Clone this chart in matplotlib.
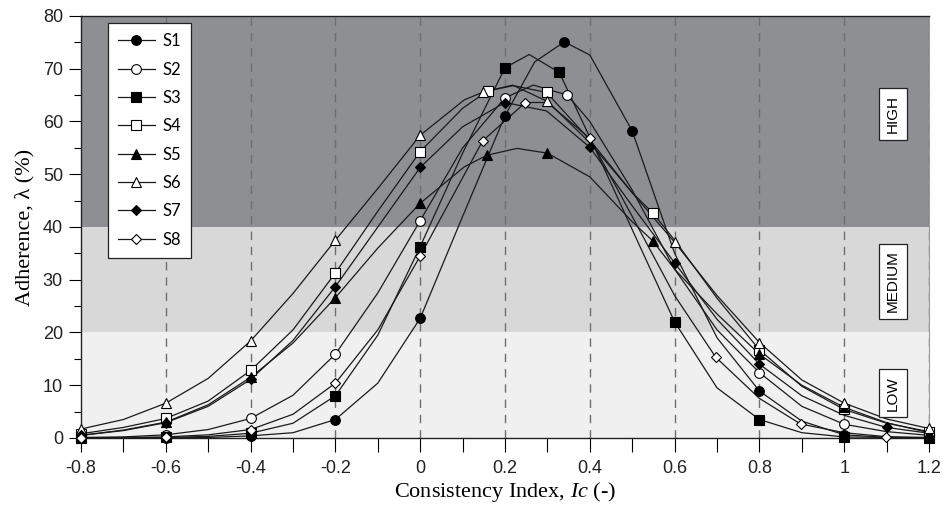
import matplotlib
matplotlib.use("Agg")
import matplotlib.pyplot as plt
from matplotlib.lines import Line2D
from matplotlib.ticker import MultipleLocator, FixedLocator

plt.rcParams['mathtext.fontset'] = 'custom'
plt.rcParams['mathtext.rm'] = 'Liberation Serif'
plt.rcParams['mathtext.it'] = 'Liberation Serif:italic'

# ---- data: fitted curves (line vertices) and measured points (marker x positions) ----
series_names = ["S1", "S2", "S3", "S4", "S5", "S6", "S7", "S8"]

s1_x = [-0.8, -0.7, -0.6, -0.5, -0.4, -0.3, -0.2, -0.1, 0, 0.1, 0.2, 0.27, 0.34, 0.4, 0.5, 0.6, 0.7, 0.8, 0.9, 1.0, 1.1, 1.2]
s1_y = [0, 0, 0, 0.1, 0.4, 1.0, 3.5, 10.4, 22.7, 42, 61.1, 71.3, 75.1, 72.6, 58.2, 35, 19, 8.9, 3.2, 0.6, 0.1, 0]
s1_pts = [-0.8, -0.6, -0.4, -0.2, 0, 0.2, 0.34, 0.5, 0.8, 1.0, 1.2]

s2_x = [-0.8, -0.7, -0.6, -0.5, -0.4, -0.3, -0.2, -0.1, 0, 0.1, 0.2, 0.267, 0.347, 0.4, 0.5, 0.6, 0.7, 0.8, 0.9, 1.0, 1.1, 1.2]
s2_y = [0.1, 0.2, 0.6, 1.6, 3.7, 8.1, 15.9, 27.5, 41.2, 55, 64.5, 66.9, 65, 60, 47, 32, 20.5, 12.4, 6, 2.6, 1.2, 0.5]
s2_pts = [-0.8, -0.6, -0.4, -0.2, 0, 0.2, 0.347, 0.8, 1.0, 1.2]

s3_x = [-0.8, -0.7, -0.6, -0.5, -0.4, -0.3, -0.2, -0.1, 0, 0.1, 0.2, 0.257, 0.328, 0.4, 0.5, 0.6, 0.7, 0.8, 0.9, 1.0, 1.1, 1.2]
s3_y = [0, 0, 0.1, 0.3, 0.9, 2.8, 8.0, 19.5, 36.3, 54, 70.2, 72.7, 69.3, 57, 39.5, 22, 9.5, 3.5, 1.0, 0.2, 0.1, 0]
s3_pts = [-0.8, -0.6, -0.4, -0.2, 0, 0.2, 0.328, 0.6, 0.8, 1.0, 1.2]

s4_x = [-0.8, -0.7, -0.6, -0.5, -0.4, -0.3, -0.2, -0.1, 0, 0.1, 0.159, 0.22, 0.298, 0.4, 0.5, 0.548, 0.6, 0.7, 0.8, 0.9, 1.0, 1.1, 1.2]
s4_y = [0.8, 2.0, 3.7, 7.0, 12.8, 20.5, 31.3, 43, 54.3, 62.5, 65.8, 66.8, 65.5, 56.5, 46.5, 42.7, 37.5, 26.5, 16.7, 9.8, 5.4, 2.8, 1.2]
s4_pts = [-0.8, -0.6, -0.4, -0.2, 0, 0.159, 0.298, 0.548, 0.8, 1.0, 1.2]

s5_x = [-0.8, -0.7, -0.6, -0.5, -0.4, -0.3, -0.2, -0.1, 0, 0.104, 0.157, 0.228, 0.3, 0.4, 0.5, 0.548, 0.6, 0.7, 0.8, 0.9, 1.0, 1.1, 1.2]
s5_y = [0.5, 1.5, 3.0, 6.3, 11.5, 18.0, 26.6, 36, 44.5, 51.4, 53.6, 54.9, 54, 49.5, 41, 37.4, 32, 23.5, 15.9, 10, 5.8, 2.9, 1.0]
s5_pts = [-0.8, -0.6, -0.4, -0.2, 0, 0.157, 0.3, 0.548, 0.8, 1.0, 1.2]

s6_x = [-0.8, -0.7, -0.6, -0.5, -0.4, -0.3, -0.2, -0.1, 0, 0.104, 0.149, 0.218, 0.3, 0.4, 0.5, 0.6, 0.7, 0.8, 0.9, 1.0, 1.1, 1.2]
s6_y = [1.7, 3.5, 6.6, 11.3, 18.4, 27.4, 37.5, 47.3, 57.4, 64.1, 65.6, 66.9, 63.8, 56, 46.5, 37.1, 27, 18.1, 11, 6.6, 3.6, 1.8]
s6_pts = [-0.8, -0.6, -0.4, -0.2, 0, 0.149, 0.3, 0.6, 0.8, 1.0, 1.2]

s7_x = [-0.8, -0.7, -0.6, -0.5, -0.4, -0.3, -0.2, -0.1, 0, 0.1, 0.2, 0.298, 0.4, 0.5, 0.6, 0.7, 0.8, 0.9, 1.0, 1.1, 1.2]
s7_y = [0.5, 1.4, 2.9, 6.0, 11.1, 18.5, 28.7, 40, 51.3, 59, 63.6, 62, 55.1, 44, 33.2, 22.5, 14.0, 8.0, 4.3, 2.0, 0.9]
s7_pts = [-0.8, -0.6, -0.4, -0.2, 0, 0.2, 0.4, 0.6, 0.8, 1.1]

s8_x = [-0.8, -0.7, -0.6, -0.5, -0.4, -0.3, -0.2, -0.1, 0, 0.147, 0.248, 0.3, 0.4, 0.5, 0.6, 0.697, 0.8, 0.897, 1.0, 1.098, 1.2]
s8_y = [0, 0.1, 0.2, 0.6, 1.6, 4.5, 10.4, 20.5, 34.5, 56.3, 63.6, 63.6, 56.8, 42, 27, 15.3, 7.5, 2.65, 1.0, 0.25, 0.1]
s8_pts = [-0.8, -0.6, -0.4, -0.2, 0, 0.147, 0.248, 0.4, 0.697, 0.897, 1.098]

x_ticks = [-0.8, -0.6, -0.4, -0.2, 0, 0.2, 0.4, 0.6, 0.8, 1.0, 1.2]
x_tick_labels = ["-0.8", "-0.6", "-0.4", "-0.2", "0", "0.2", "0.4", "0.6", "0.8", "1", "1.2"]
y_ticks = [0, 10, 20, 30, 40, 50, 60, 70, 80]

band_edges = [0, 20, 40, 80]
band_names = ["LOW", "MEDIUM", "HIGH"]
band_label_y = [8.5, 29.7, 61.4]

# ---- styling ----
band_colors = ["#f0f0f0", "#d8d8d8", "#8e8f93"]
marker_styles = [
    ("o", "black"), ("o", "white"), ("s", "black"), ("s", "white"),
    ("^", "black"), ("^", "white"), ("D", "black"), ("D", "white"),
]
marker_sizes = [7, 7, 6.5, 6.5, 7.5, 7.5, 5.5, 5.5]

curves = [(s1_x, s1_y, s1_pts), (s2_x, s2_y, s2_pts), (s3_x, s3_y, s3_pts),
          (s4_x, s4_y, s4_pts), (s5_x, s5_y, s5_pts), (s6_x, s6_y, s6_pts),
          (s7_x, s7_y, s7_pts), (s8_x, s8_y, s8_pts)]

fig = plt.figure(figsize=(9.43, 5.11), dpi=100)
ax = fig.add_axes([0.0859, 0.1429, 0.8993, 0.8258])

for lo, hi, c in zip(band_edges[:-1], band_edges[1:], band_colors):
    ax.axhspan(lo, hi, color=c, zorder=0, lw=0)

for xv in x_ticks[1:]:
    ax.axvline(xv, color="#6e6e6e", lw=1.0, ls=(0, (6, 5)), zorder=1)

for (lx, ly, pts) in curves:
    ax.plot(lx, ly, color="#1a1a1a", lw=0.9, zorder=3, clip_on=False)

handles = []
for (lx, ly, pts), (m, fc), ms, name in zip(curves, marker_styles, marker_sizes, series_names):
    idx = [lx.index(p) for p in pts]
    ax.plot([lx[i] for i in idx], [ly[i] for i in idx], ls="none", marker=m, ms=ms,
            mfc=fc, mec="black", mew=0.8, zorder=4, clip_on=False)
    handles.append(Line2D([], [], color="#1a1a1a", lw=0.9, marker=m, ms=ms,
                          mfc=fc, mec="black", mew=0.8, label=name))

for name, yv in zip(band_names, band_label_y):
    ax.text(1.115, yv, name, rotation=90, ha="center", va="center",
            fontsize=11, family="Liberation Sans", zorder=5,
            bbox=dict(boxstyle="square,pad=0.45", fc="white", ec="#222222", lw=0.9))

ax.set_xlim(-0.8, 1.2)
ax.set_ylim(0, 80)
ax.xaxis.set_major_locator(FixedLocator(x_ticks))
ax.set_xticklabels(x_tick_labels)
ax.xaxis.set_minor_locator(MultipleLocator(0.1))
ax.yaxis.set_major_locator(FixedLocator(y_ticks))
ax.yaxis.set_minor_locator(MultipleLocator(5))

ax.tick_params(axis="x", which="both", direction="out", length=10, width=0.8, pad=6)
ax.tick_params(axis="y", which="major", direction="out", length=9, width=0.8, pad=4)
ax.tick_params(axis="y", which="minor", direction="out", length=5, width=0.8)
for lab in ax.get_xticklabels() + ax.get_yticklabels():
    lab.set_fontfamily("Liberation Sans")
    lab.set_fontsize(13)
    lab.set_color("#222222")

for side in ["left", "bottom", "top"]:
    ax.spines[side].set_color("#222222")
    ax.spines[side].set_linewidth(1.0)
ax.spines["right"].set_color("#9a9a9a")
ax.spines["right"].set_linewidth(0.8)

ax.set_xlabel(r"Consistency Index, $\mathit{Ic}$ (-)", fontsize=16,
              family="Liberation Serif", labelpad=2)
ax.set_ylabel("Adherence, λ (%)", fontsize=16, family="Liberation Serif", labelpad=6)

leg = ax.legend(handles=handles, loc="upper left", bbox_to_anchor=(0.032, 0.983),
                borderaxespad=0, frameon=True, fancybox=False, handlelength=2.2,
                handletextpad=0.45, labelspacing=0.74, borderpad=0.6,
                prop={"family": "Lato", "size": 12})
leg.get_frame().set_edgecolor("#222222")
leg.get_frame().set_linewidth(0.9)
leg.get_frame().set_facecolor("white")
leg.get_frame().set_alpha(1)
leg.set_zorder(6)

fig.savefig("out.png", dpi=100)
